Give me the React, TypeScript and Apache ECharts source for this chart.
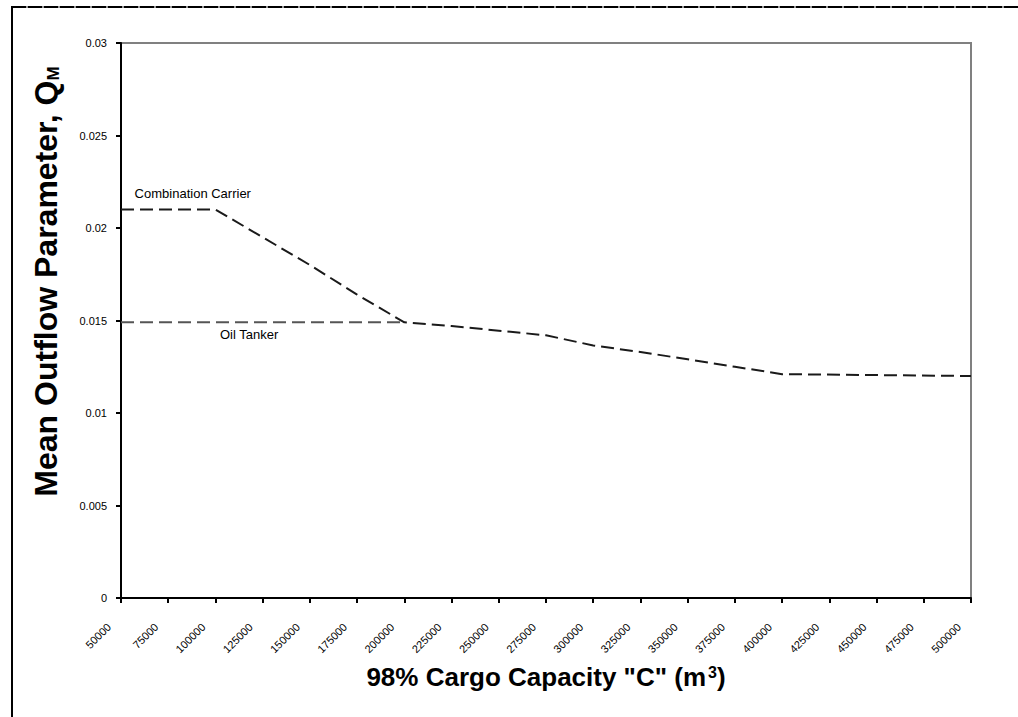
import React, { useEffect, useRef } from "react";
import * as echarts from "echarts";

const capacityTicks = [
  50000, 75000, 100000, 125000, 150000, 175000, 200000, 225000, 250000, 275000,
  300000, 325000, 350000, 375000, 400000, 425000, 450000, 475000, 500000,
];
const yTicks = [0, 0.005, 0.01, 0.015, 0.02, 0.025, 0.03];

// Combination carrier curve (coincides with the oil tanker curve beyond 200000)
const combinationX = [50000, 100000, 125000, 150000, 175000, 200000, 225000, 250000, 275000, 300000, 325000, 350000, 375000, 400000, 500000];
const combinationY = [0.021, 0.021, 0.0195, 0.018, 0.0164, 0.0149, 0.0147, 0.01445, 0.0142, 0.01365, 0.0133, 0.0129, 0.0125, 0.0121, 0.012];

// Oil tanker flat part (the rest is shared with the curve above)
const tankerX = [50000, 200000];
const tankerY = [0.0149, 0.0149];

const labelNames = ["Combination Carrier", "Oil Tanker"];
const labelX = [88000, 117800];
const labelY = [0.02184, 0.01427];

const FONT = "Arial, 'Liberation Sans', Helvetica, sans-serif";

export default function App() {
  const ref = useRef<HTMLDivElement>(null);
  useEffect(() => {
    if (!ref.current) return;
    const chart = echarts.init(ref.current, null, { renderer: "svg" });
    const zip = (xs: number[], ys: number[]) => xs.map((x, i) => [x, ys[i]]);
    chart.setOption({
      animation: false,
      backgroundColor: "#ffffff",
      textStyle: { fontFamily: FONT },
      graphic: [
        {
          type: "line",
          shape: { x1: 12, y1: 7, x2: 1018, y2: 7 },
          style: { stroke: "#9a9a9a", lineWidth: 2 },
        },
        {
          type: "line",
          shape: { x1: 12, y1: 7, x2: 1018, y2: 7 },
          style: { stroke: "#000", lineWidth: 2, lineDash: [14, 2] },
        },
        {
          type: "line",
          shape: { x1: 12, y1: 6, x2: 12, y2: 717 },
          style: { stroke: "#000", lineWidth: 2 },
        },
      ],
      grid: {
        left: 121,
        right: 47,
        top: 43,
        bottom: 119,
        show: true,
        borderColor: "#808080",
        borderWidth: 2,
      },
      xAxis: {
        type: "value",
        min: capacityTicks[0],
        max: capacityTicks[capacityTicks.length - 1],
        interval: 25000,
        name: "{b|98% Cargo Capacity \"C\" (m}{s|3}{b|)}",
        nameLocation: "middle",
        nameGap: 66,
        nameTextStyle: {
          rich: {
            b: { fontSize: 26, fontWeight: "bold", color: "#000", fontFamily: FONT },
            s: { fontSize: 16, fontWeight: "bold", color: "#000", fontFamily: FONT, verticalAlign: "top", padding: [0, 0, 10, 2] },
          },
        },
        axisLine: { show: true, onZero: false, lineStyle: { color: "#000", width: 2 } },
        axisTick: { show: true, length: 5, lineStyle: { color: "#000", width: 2 } },
        splitLine: { show: false },
        axisLabel: {
          rotate: 45,
          fontSize: 11,
          color: "#000",
          fontFamily: FONT,
          margin: 15,
          padding: [0, 17, 0, 0],
          formatter: (v: number) => String(v),
        },
      },
      yAxis: {
        type: "value",
        min: yTicks[0],
        max: yTicks[yTicks.length - 1],
        interval: 0.005,
        name: "{b|Mean Outflow Parameter, Q}{s|M}",
        nameLocation: "middle",
        nameRotate: 90,
        nameGap: 59,
        nameTextStyle: {
          padding: [0, 0, 0, 78],
          rich: {
            b: { fontSize: 32, fontWeight: "bold", color: "#000", fontFamily: FONT },
            s: { fontSize: 17, fontWeight: "bold", color: "#000", fontFamily: FONT, verticalAlign: "bottom" },
          },
        },
        axisLine: { show: true, lineStyle: { color: "#000", width: 2 } },
        axisTick: { show: true, length: 5, lineStyle: { color: "#000", width: 2 } },
        splitLine: { show: false },
        axisLabel: {
          fontSize: 11,
          color: "#000",
          fontFamily: FONT,
          margin: 14,
          formatter: (v: number) => String(Number(v.toFixed(4))),
        },
      },
      series: [
        {
          name: "Oil Tanker",
          type: "line",
          data: zip(tankerX, tankerY),
          symbol: "none",
          lineStyle: { color: "#555555", width: 2, type: [13, 6] },
          z: 2,
          markPoint: {
            symbol: "circle",
            symbolSize: 0,
            data: [
              {
                coord: [labelX[1], labelY[1]],
                label: {
                  show: true,
                  position: "inside",
                  formatter: labelNames[1],
                  fontSize: 13,
                  color: "#000",
                  fontFamily: FONT,
                },
              },
            ],
          },
        },
        {
          name: "Combination Carrier",
          type: "line",
          data: zip(combinationX, combinationY),
          symbol: "none",
          lineStyle: { color: "#1a1a1a", width: 2, type: [13, 6] },
          z: 3,
          markPoint: {
            symbol: "circle",
            symbolSize: 0,
            data: [
              {
                coord: [labelX[0], labelY[0]],
                label: {
                  show: true,
                  position: "inside",
                  formatter: labelNames[0],
                  fontSize: 13,
                  color: "#000",
                  fontFamily: FONT,
                },
              },
            ],
          },
        },
      ],
    });
    return () => chart.dispose();
  }, []);
  return (
    <div
      ref={ref}
      style={{ position: "fixed", left: 0, top: 0, width: 1018, height: 717, background: "#fff" }}
    />
  );
}
